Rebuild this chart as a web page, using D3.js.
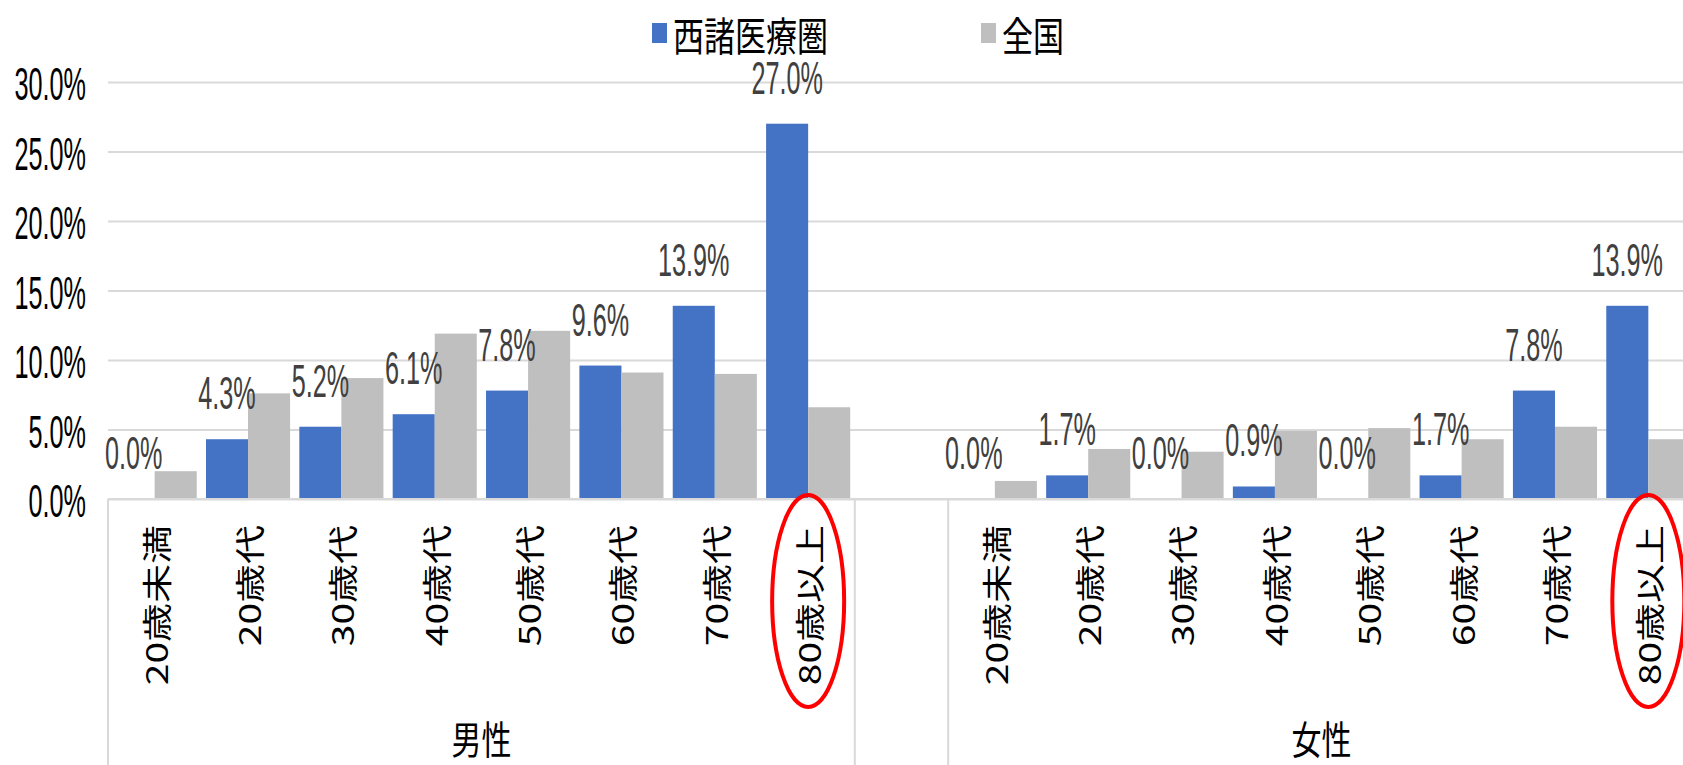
<!DOCTYPE html>
<html>
<head>
<meta charset="utf-8">
<script src="https://cdn.jsdelivr.net/npm/d3@7"></script>
<style>
  html, body { margin: 0; padding: 0; background: #fff; overflow: hidden; }
  svg { display: block; }
</style>
</head>
<body>
<svg id="chart" width="1683" height="765"></svg>
<script>
// ---- data ----
const categories = ["20歳未満", "20歳代", "30歳代", "40歳代", "50歳代", "60歳代", "70歳代", "80歳以上"];
const groups = ["男性", "女性"];
const seriesNames = ["西諸医療圏", "全国"];
const maleRegion = [0.0, 4.3, 5.2, 6.1, 7.8, 9.6, 13.9, 27.0];
const maleNational = [2.0, 7.6, 8.7, 11.9, 12.1, 9.1, 9.0, 6.6];
const femaleRegion = [0.0, 1.7, 0.0, 0.9, 0.0, 1.7, 7.8, 13.9];
const femaleNational = [1.3, 3.6, 3.4, 4.9, 5.1, 4.3, 5.2, 4.3];
const yTicks = [0, 5, 10, 15, 20, 25, 30];
const highlighted = "80歳以上";

// ---- build rows ----
const seriesByGroup = {
  "男性": [maleRegion, maleNational],
  "女性": [femaleRegion, femaleNational]
};
const rows = [];
groups.forEach((g, gi) => {
  categories.forEach((c, ci) => {
    rows.push({ key: g + "|" + c, group: g, cat: c,
      values: seriesNames.map((s, si) => ({ series: s, value: seriesByGroup[g][si][ci] })) });
  });
  if (gi < groups.length - 1) rows.push({ key: "gap" + gi, group: null, cat: "", values: [] });
});

const W = 1683, H = 765;
const left = 108, plotRight = 1695;
const svg = d3.select("#chart");
const colors = { "西諸医療圏": "#4472C4", "全国": "#BFBFBF" };
const numFont = "Liberation Sans, Arial, sans-serif";

const x0 = d3.scaleBand().domain(rows.map(r => r.key)).range([left, plotRight]).padding(0);
const x1 = d3.scaleBand().domain(seriesNames).range([0, x0.bandwidth()]).paddingInner(0).paddingOuter(0.11);
const y = d3.scaleLinear().domain([0, 30]).range([499, 82]);

const fmt = v => v.toFixed(1) + "%";

// gridlines
const grid = svg.append("g").attr("transform", `translate(${left},0)`)
  .call(d3.axisLeft(y).tickValues(yTicks).tickSize(-(W - left)).tickFormat(""));
grid.select(".domain").remove();
grid.selectAll(".tick line").attr("stroke", "#d9d9d9").attr("stroke-width", 2);

// y tick labels
svg.append("g").selectAll("text").data(yTicks).join("text")
  .attr("transform", d => `translate(86,${y(d) + 18}) scale(0.7,1.3)`)
  .attr("text-anchor", "end")
  .attr("font-family", numFont)
  .attr("font-size", 36)
  .attr("fill", "#000")
  .text(d => fmt(d));

// bars
const rowG = svg.append("g").selectAll("g").data(rows.filter(r => r.group)).join("g")
  .attr("transform", r => `translate(${x0(r.key)},0)`);
rowG.selectAll("rect").data(r => r.values).join("rect")
  .attr("x", d => x1(d.series))
  .attr("width", x1.bandwidth())
  .attr("y", d => y(d.value))
  .attr("height", d => y(0) - y(d.value))
  .attr("fill", d => colors[d.series]);

// data labels (region series)
rowG.append("text")
  .attr("transform", r => `translate(${x1(seriesNames[0]) + x1.bandwidth() / 2},${y(r.values[0].value) - 30}) scale(0.7,1.3)`)
  .attr("text-anchor", "middle")
  .attr("font-family", numFont)
  .attr("font-size", 36)
  .attr("fill", "#404040")
  .text(r => fmt(r.values[0].value));

// x axis baseline
svg.append("line").attr("x1", left).attr("x2", W).attr("y1", y(0)).attr("y2", y(0))
  .attr("stroke", "#d9d9d9").attr("stroke-width", 2);

// group dividers
const boundaries = new Set();
groups.forEach(g => {
  const gr = rows.filter(r => r.group === g);
  boundaries.add(x0(gr[0].key));
  boundaries.add(x0(gr[gr.length - 1].key) + x0.bandwidth());
});
svg.append("g").selectAll("line").data([...boundaries]).join("line")
  .attr("x1", d => d).attr("x2", d => d).attr("y1", y(0)).attr("y2", H)
  .attr("stroke", "#d9d9d9").attr("stroke-width", 2);

// category labels (rotated)
svg.append("g").selectAll("text").data(rows.filter(r => r.group)).join("text")
  .attr("transform", r => `translate(${x0(r.key) + x0.bandwidth() / 2},525) rotate(-90) scale(1.3,1)`)
  .attr("text-anchor", "end")
  .attr("dominant-baseline", "central")
  .attr("font-family", "Noto Sans CJK JP, sans-serif")
  .attr("font-size", 30)
  .attr("fill", "#000")
  .text(r => r.cat);

// group labels
svg.append("g").selectAll("text").data(groups).join("text")
  .attr("transform", g => {
    const gr = rows.filter(r => r.group === g);
    const cx = (x0(gr[0].key) + x0(gr[gr.length - 1].key) + x0.bandwidth()) / 2;
    return `translate(${cx},737) scale(1,1.3)`;
  })
  .attr("text-anchor", "middle")
  .attr("dominant-baseline", "central")
  .attr("font-family", "Noto Sans CJK JP, sans-serif")
  .attr("font-size", 30)
  .attr("fill", "#000")
  .text(g => g);

// highlight ellipses
svg.append("g").selectAll("ellipse").data(groups).join("ellipse")
  .attr("cx", g => x0(g + "|" + highlighted) + x0.bandwidth() / 2)
  .attr("cy", 601)
  .attr("rx", 36).attr("ry", 106)
  .attr("fill", "none").attr("stroke", "#FF0000").attr("stroke-width", 4);

// legend
const legendX = [652, 981];
const lg = svg.append("g").selectAll("g").data(seriesNames).join("g")
  .attr("transform", (d, i) => `translate(${legendX[i]},0)`);
lg.append("rect").attr("x", 0).attr("y", 23).attr("width", 15).attr("height", 20)
  .attr("fill", d => colors[d]);
lg.append("text")
  .attr("transform", "translate(21,33) scale(1,1.3)")
  .attr("dominant-baseline", "central")
  .attr("font-family", "Noto Sans CJK JP, sans-serif")
  .attr("font-size", 31)
  .attr("fill", "#000")
  .text(d => d);
</script>
</body>
</html>
